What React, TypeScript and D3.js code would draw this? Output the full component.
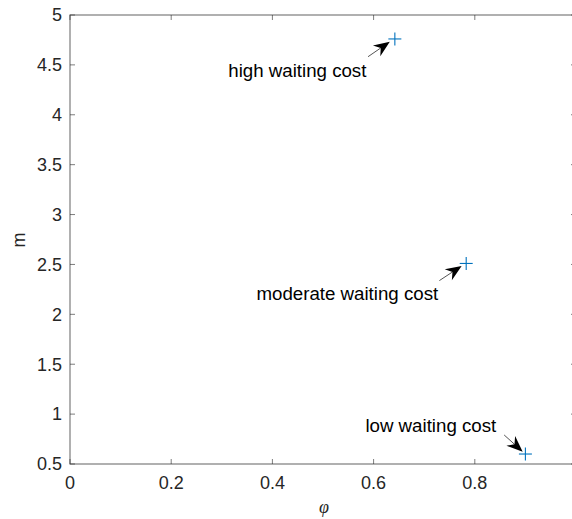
import React from "react";
import * as d3 from "d3";

// Waiting-cost scenarios: optimal phi and m
const labels = ["high waiting cost", "moderate waiting cost", "low waiting cost"];
const phiValues = [0.642, 0.783, 0.9];
const mValues = [4.76, 2.51, 0.6];

// Annotation arrows (data coordinates): tail -> tip, and text anchor
const arrowTailX = [0.589, 0.73, 0.858];
const arrowTailY = [4.582, 2.338, 0.791];
const arrowTipX = [0.632, 0.774, 0.8946];
const arrowTipY = [4.732, 2.485, 0.624];
const textX = [0.4493, 0.5481, 0.7131];
const textY = [4.383, 2.148, 0.825];

const xTicks = [0, 0.2, 0.4, 0.6, 0.8];
const yTicks = [0.5, 1, 1.5, 2, 2.5, 3, 3.5, 4, 4.5, 5];

const W = 572;
const H = 519;
const left = 70;
const right = 576;
const top = 15;
const bottom = 464;

const axisColor = "#262626";
const font = "'Liberation Sans', Arial, sans-serif";

export default function App() {
  const x = d3.scaleLinear().domain([0, 1]).range([left, right]);
  const y = d3.scaleLinear().domain([0.5, 5]).range([bottom, top]);
  const tickLen = 5;

  return (
    <svg
      width={W}
      height={H}
      style={{ position: "absolute", left: 0, top: 0, background: "#fff" }}
      fontFamily={font}
    >
      {/* axes box */}
      <rect
        x={left}
        y={top}
        width={right - left}
        height={bottom - top}
        fill="none"
        stroke={axisColor}
        strokeOpacity={0.6}
        strokeWidth={1.2}
      />
      {/* x ticks */}
      {xTicks.map((t) => (
        <g key={"x" + t}>
          <line x1={x(t)} x2={x(t)} y1={bottom} y2={bottom - tickLen} stroke={axisColor} strokeOpacity={0.6} />
          <line x1={x(t)} x2={x(t)} y1={top} y2={top + tickLen} stroke={axisColor} strokeOpacity={0.6} />
          <text x={x(t)} y={bottom + 25} textAnchor="middle" fontSize={18} fill={axisColor}>
            {d3.format("")(t)}
          </text>
        </g>
      ))}
      {/* y ticks */}
      {yTicks.map((t) => (
        <g key={"y" + t}>
          <line x1={left} x2={left + tickLen} y1={y(t)} y2={y(t)} stroke={axisColor} strokeOpacity={0.6} />
          <line x1={right} x2={right - tickLen} y1={y(t)} y2={y(t)} stroke={axisColor} strokeOpacity={0.6} />
          <text x={left - 8} y={y(t)} dy="0.35em" textAnchor="end" fontSize={18} fill={axisColor}>
            {d3.format("")(t)}
          </text>
        </g>
      ))}
      {/* axis labels */}
      <text
        transform={`translate(25,240) rotate(-90)`}
        textAnchor="middle"
        fontSize={18}
        fill={axisColor}
      >
        m
      </text>
      <text
        x={324}
        y={513}
        textAnchor="middle"
        fontSize={18}
        fontStyle="italic"
        fontFamily="'Liberation Serif', 'DejaVu Serif', serif"
        fill={axisColor}
      >
        φ
      </text>

      {/* markers */}
      {phiValues.map((p, i) => {
        const cx = x(p);
        const cy = y(mValues[i]);
        const s = 6.5;
        return (
          <g key={"m" + i} stroke="#0072BD" strokeWidth={1.1}>
            <line x1={cx - s} x2={cx + s} y1={cy} y2={cy} />
            <line x1={cx} x2={cx} y1={cy - s} y2={cy + s} />
          </g>
        );
      })}

      {/* annotations */}
      {labels.map((lab, i) => {
        const x0 = x(arrowTailX[i]);
        const y0 = y(arrowTailY[i]);
        const x1 = x(arrowTipX[i]);
        const y1 = y(arrowTipY[i]);
        const ang = Math.atan2(y1 - y0, x1 - x0);
        const hl = 16;
        const hw = 6.5;
        const back = 11;
        const ux = Math.cos(ang);
        const uy = Math.sin(ang);
        const px = -uy;
        const py = ux;
        const bx = x1 - ux * hl;
        const by = y1 - uy * hl;
        const nx = x1 - ux * back;
        const ny = y1 - uy * back;
        const head = `M${x1},${y1} L${bx + px * hw},${by + py * hw} L${nx},${ny} L${bx - px * hw},${by - py * hw} Z`;
        return (
          <g key={"a" + i}>
            <line x1={x0} y1={y0} x2={nx} y2={ny} stroke="#555" strokeWidth={1} />
            <path d={head} fill="#000" />
            <text x={x(textX[i])} y={y(textY[i])} textAnchor="middle" fontSize={18.7} fill="#000">
              {lab}
            </text>
          </g>
        );
      })}
    </svg>
  );
}
